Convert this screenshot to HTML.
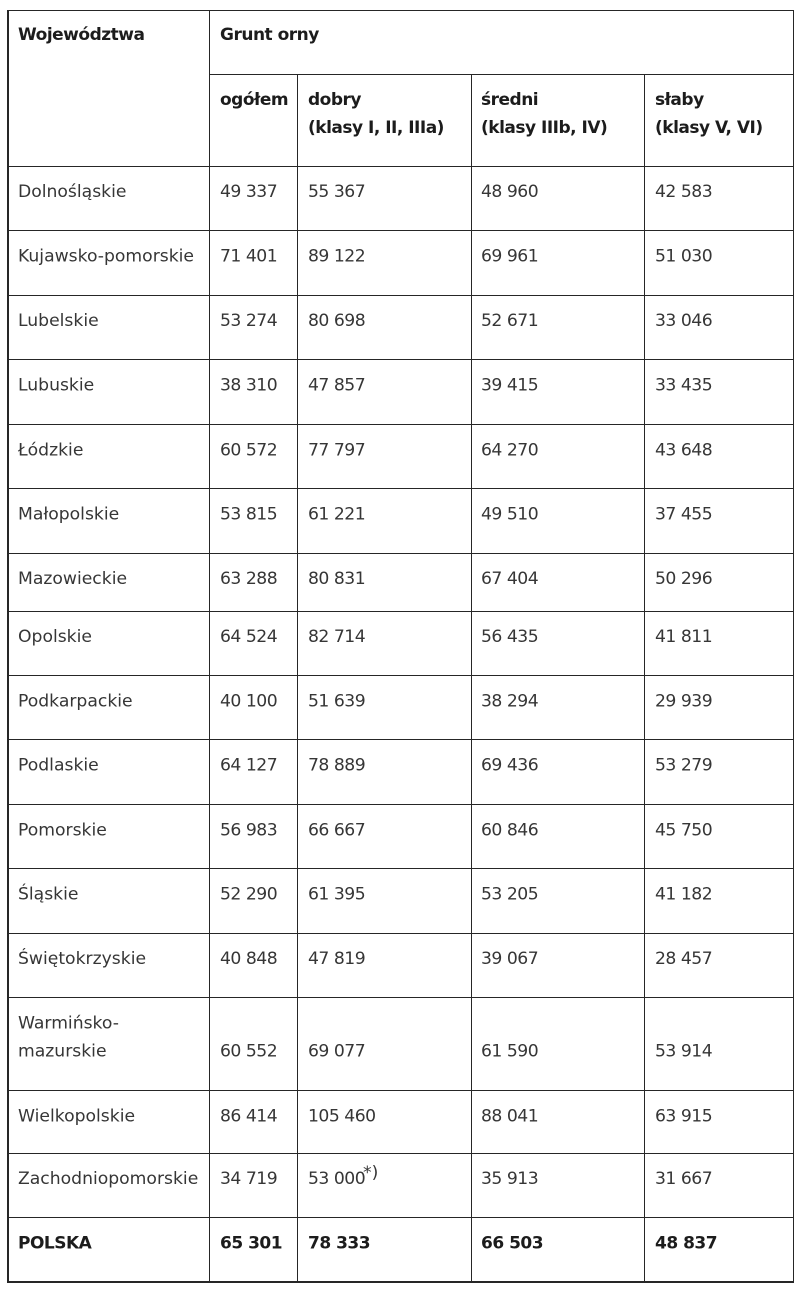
<!DOCTYPE html>
<html>
<head>
<meta charset="utf-8">
<style>
html,body{margin:0;padding:0;background:#fff;}
svg{display:block;}
.r{font-family:"DejaVu Sans","Liberation Sans",sans-serif;font-size:17.2px;fill:#363636;}
.n{font-family:"DejaVu Sans","Liberation Sans",sans-serif;font-size:17.2px;fill:#363636;letter-spacing:-0.5px;}
.b{font-family:"DejaVu Sans","Liberation Sans",sans-serif;font-size:17px;font-weight:bold;fill:#1c1c1c;letter-spacing:-0.5px;}
</style>
</head>
<body>
<svg width="800" height="1296" viewBox="0 0 800 1296" xmlns="http://www.w3.org/2000/svg">
<rect x="0" y="0" width="800" height="1296" fill="#fff"/>
<g fill="#262626" shape-rendering="crispEdges">
<!-- outer border -->
<rect x="7" y="10" width="787" height="1"/>
<rect x="7" y="10" width="2" height="1273"/>
<rect x="793" y="10" width="1" height="1273"/>
<rect x="7" y="1281" width="787" height="2"/>
<!-- inner verticals -->
<rect x="209" y="10" width="1" height="1272"/>
<rect x="297" y="74" width="1" height="1208"/>
<rect x="471" y="74" width="1" height="1208"/>
<rect x="644" y="74" width="1" height="1208"/>
<!-- horizontals -->
<rect x="209" y="74" width="585" height="1"/>
<rect x="7" y="166" width="787" height="1"/>
<rect x="7" y="230" width="787" height="1"/>
<rect x="7" y="295" width="787" height="1"/>
<rect x="7" y="359" width="787" height="1"/>
<rect x="7" y="424" width="787" height="1"/>
<rect x="7" y="488" width="787" height="1"/>
<rect x="7" y="553" width="787" height="1"/>
<rect x="7" y="611" width="787" height="1"/>
<rect x="7" y="675" width="787" height="1"/>
<rect x="7" y="739" width="787" height="1"/>
<rect x="7" y="804" width="787" height="1"/>
<rect x="7" y="868" width="787" height="1"/>
<rect x="7" y="933" width="787" height="1"/>
<rect x="7" y="997" width="787" height="1"/>
<rect x="7" y="1090" width="787" height="1"/>
<rect x="7" y="1153" width="787" height="1"/>
<rect x="7" y="1217" width="787" height="1"/>
</g>

<!-- header -->
<text class="b" x="18" y="40">Województwa</text>
<text class="b" x="220" y="40">Grunt orny</text>
<text class="b" x="220" y="105">ogółem</text>
<text class="b" x="308" y="105">dobry</text>
<text class="b" x="308" y="133">(klasy I, II, IIIa)</text>
<text class="b" x="481" y="105">średni</text>
<text class="b" x="481" y="133">(klasy IIIb, IV)</text>
<text class="b" x="655" y="105">słaby</text>
<text class="b" x="655" y="133">(klasy V, VI)</text>

<!-- rows -->
<text class="r" x="18" y="197">Dolnośląskie</text>
<text class="n" x="220" y="197">49 337</text><text class="n" x="308" y="197">55 367</text><text class="n" x="481" y="197">48 960</text><text class="n" x="655" y="197">42 583</text>

<text class="r" x="18" y="261.7">Kujawsko-pomorskie</text>
<text class="n" x="220" y="261.7">71 401</text><text class="n" x="308" y="261.7">89 122</text><text class="n" x="481" y="261.7">69 961</text><text class="n" x="655" y="261.7">51 030</text>

<text class="r" x="18" y="326">Lubelskie</text>
<text class="n" x="220" y="326">53 274</text><text class="n" x="308" y="326">80 698</text><text class="n" x="481" y="326">52 671</text><text class="n" x="655" y="326">33 046</text>

<text class="r" x="18" y="390.3">Lubuskie</text>
<text class="n" x="220" y="390.3">38 310</text><text class="n" x="308" y="390.3">47 857</text><text class="n" x="481" y="390.3">39 415</text><text class="n" x="655" y="390.3">33 435</text>

<text class="r" x="18" y="455.3">Łódzkie</text>
<text class="n" x="220" y="455.3">60 572</text><text class="n" x="308" y="455.3">77 797</text><text class="n" x="481" y="455.3">64 270</text><text class="n" x="655" y="455.3">43 648</text>

<text class="r" x="18" y="519.7">Małopolskie</text>
<text class="n" x="220" y="519.7">53 815</text><text class="n" x="308" y="519.7">61 221</text><text class="n" x="481" y="519.7">49 510</text><text class="n" x="655" y="519.7">37 455</text>

<text class="r" x="18" y="584">Mazowieckie</text>
<text class="n" x="220" y="584">63 288</text><text class="n" x="308" y="584">80 831</text><text class="n" x="481" y="584">67 404</text><text class="n" x="655" y="584">50 296</text>

<text class="r" x="18" y="642">Opolskie</text>
<text class="n" x="220" y="642">64 524</text><text class="n" x="308" y="642">82 714</text><text class="n" x="481" y="642">56 435</text><text class="n" x="655" y="642">41 811</text>

<text class="r" x="18" y="706.7">Podkarpackie</text>
<text class="n" x="220" y="706.7">40 100</text><text class="n" x="308" y="706.7">51 639</text><text class="n" x="481" y="706.7">38 294</text><text class="n" x="655" y="706.7">29 939</text>

<text class="r" x="18" y="770.3">Podlaskie</text>
<text class="n" x="220" y="770.3">64 127</text><text class="n" x="308" y="770.3">78 889</text><text class="n" x="481" y="770.3">69 436</text><text class="n" x="655" y="770.3">53 279</text>

<text class="r" x="18" y="835.3">Pomorskie</text>
<text class="n" x="220" y="835.3">56 983</text><text class="n" x="308" y="835.3">66 667</text><text class="n" x="481" y="835.3">60 846</text><text class="n" x="655" y="835.3">45 750</text>

<text class="r" x="18" y="899.6">Śląskie</text>
<text class="n" x="220" y="899.6">52 290</text><text class="n" x="308" y="899.6">61 395</text><text class="n" x="481" y="899.6">53 205</text><text class="n" x="655" y="899.6">41 182</text>

<text class="r" x="18" y="964">Świętokrzyskie</text>
<text class="n" x="220" y="964">40 848</text><text class="n" x="308" y="964">47 819</text><text class="n" x="481" y="964">39 067</text><text class="n" x="655" y="964">28 457</text>

<text class="r" x="18" y="1028.3">Warmińsko-</text>
<text class="r" x="18" y="1056.7">mazurskie</text>
<text class="n" x="220" y="1056.7">60 552</text><text class="n" x="308" y="1056.7">69 077</text><text class="n" x="481" y="1056.7">61 590</text><text class="n" x="655" y="1056.7">53 914</text>

<text class="r" x="18" y="1121.4">Wielkopolskie</text>
<text class="n" x="220" y="1121.4">86 414</text><text class="n" x="308" y="1121.4">105 460</text><text class="n" x="481" y="1121.4">88 041</text><text class="n" x="655" y="1121.4">63 915</text>

<text class="r" x="18" y="1184">Zachodniopomorskie</text>
<text class="n" x="220" y="1184">34 719</text><text class="n" x="308" y="1184">53 000</text><text class="r" x="363" y="1178" font-size="15">*)</text><text class="n" x="481" y="1184">35 913</text><text class="n" x="655" y="1184">31 667</text>

<text class="b" x="18" y="1248.3">POLSKA</text>
<text class="b" x="220" y="1248.3">65 301</text><text class="b" x="308" y="1248.3">78 333</text><text class="b" x="481" y="1248.3">66 503</text><text class="b" x="655" y="1248.3">48 837</text>
</svg>
</body>
</html>
